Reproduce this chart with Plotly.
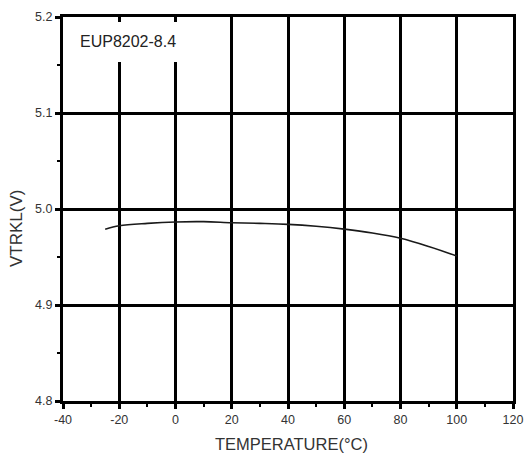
import plotly.graph_objects as go

# VTRKL vs temperature
temperature = [-25, -20, -10, 0, 10, 20, 30, 40, 50, 60, 70, 80, 90, 100]
vtrkl = [4.979, 4.9825, 4.985, 4.9865, 4.9868, 4.9857, 4.985, 4.984, 4.982,
         4.979, 4.975, 4.9695, 4.961, 4.951]

x_ticks = [-40, -20, 0, 20, 40, 60, 80, 100, 120]
x_ticktext = ["-40", "-20", "0", "20", "40", "60", "80", "100", "120"]
y_ticks = [4.8, 4.9, 5.0, 5.1, 5.2]
y_ticktext = ["4.8", "4.9", "5.0", "5.1", "5.2"]

x_range = [-40, 120]
y_range = [4.8, 5.2]
label = "EUP8202-8.4"

fig = go.Figure()
fig.add_trace(go.Scatter(
    x=temperature, y=vtrkl, mode="lines",
    line=dict(color="#1a1a1a", width=1.6, shape="spline"),
    showlegend=False,
))

# white patch behind the label, cuts the grid lines like in the original
fig.add_shape(type="rect", xref="x", yref="y", layer="between",
              x0=-40, x1=2, y0=5.153, y1=5.1948,
              fillcolor="white", line=dict(width=0))
fig.add_annotation(x=-34.5, y=5.174, xref="x", yref="y", text=label,
                   showarrow=False, xanchor="left", yanchor="middle",
                   font=dict(size=16, color="#222"))

# axis titles as annotations (paper coords are relative to the plot area)
fig.add_annotation(x=0.5067, y=-0.112, xref="paper", yref="paper",
                   text="TEMPERATURE(°C)", showarrow=False,
                   xanchor="center", yanchor="middle",
                   font=dict(size=16.5, color="#333"))
fig.add_annotation(x=-0.102, y=0.448, xref="paper", yref="paper",
                   text="VTRKL(V)", showarrow=False, textangle=-90,
                   xanchor="center", yanchor="middle",
                   font=dict(size=17, color="#333"))

axis_common = dict(
    showline=True, linecolor="black", linewidth=3, mirror=True,
    showgrid=True, gridcolor="black", gridwidth=3, zeroline=False,
    ticks="outside", ticklen=5, tickwidth=3, tickcolor="black",
    tickfont=dict(size=12.5, color="#333"), automargin=False,
)

fig.update_xaxes(
    range=x_range, tickvals=x_ticks, ticktext=x_ticktext,
    minor=dict(dtick=10, tick0=-40, ticks="outside", ticklen=3, tickwidth=2,
               tickcolor="black", showgrid=False),
    **axis_common,
)
fig.update_yaxes(
    range=y_range, tickvals=y_ticks, ticktext=y_ticktext,
    minor=dict(dtick=0.05, tick0=4.8, ticks="outside", ticklen=3, tickwidth=2,
               tickcolor="black", showgrid=False),
    **axis_common,
)

fig.update_layout(
    width=528, height=455,
    margin=dict(l=63, r=15, t=17, b=54),
    plot_bgcolor="white", paper_bgcolor="white",
    font=dict(family="Arial, Liberation Sans, sans-serif"),
)

# drop the default 8px body margin so the figure fills the window exactly
fig.write_html("out.html", config={"displayModeBar": False},
               post_script="document.body.style.margin='0';")
